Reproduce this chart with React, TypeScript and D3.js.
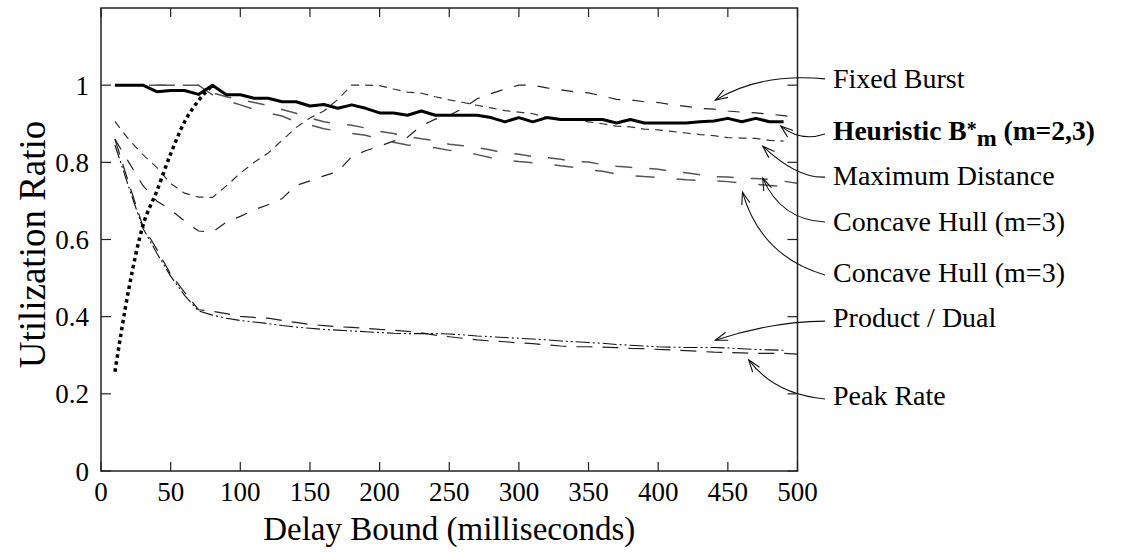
import React from "react";
import * as d3 from "d3";

// ---------- data ----------
const delays = [10, 20, 30, 40, 50, 60, 70, 80, 90, 100, 110, 120, 130, 140, 150, 160, 170, 180, 190, 200,
  210, 220, 230, 240, 250, 260, 270, 280, 290, 300, 310, 320, 330, 340, 350, 360, 370, 380, 390, 400,
  410, 420, 430, 440, 450, 460, 470, 480, 490, 500];

const heuristic = [1.0, 1.0, 1.0, 0.983, 0.986, 0.986, 0.976, 1.0, 0.975, 0.975,
  0.966, 0.966, 0.957, 0.957, 0.946, 0.95, 0.94, 0.949, 0.94, 0.928,
  0.928, 0.922, 0.933, 0.922, 0.922, 0.922, 0.922, 0.916, 0.905, 0.916,
  0.905, 0.916, 0.911, 0.911, 0.911, 0.911, 0.902, 0.911, 0.902, 0.902,
  0.902, 0.902, 0.905, 0.907, 0.914, 0.905, 0.914, 0.905, 0.905];

const fixedBurst = [0.86, 0.8, 0.74, 0.7, 0.677, 0.648, 0.622, 0.619, 0.645, 0.66,
  0.677, 0.69, 0.706, 0.74, 0.752, 0.765, 0.776, 0.815, 0.83, 0.842,
  0.855, 0.865, 0.895, 0.912, 0.922, 0.94, 0.965, 0.978, 0.99, 1.0,
  1.0, 0.993, 0.988, 0.983, 0.98, 0.972, 0.963, 0.962, 0.957, 0.955,
  0.949, 0.945, 0.94, 0.938, 0.933, 0.93, 0.928, 0.925, 0.921, 0.916];

const maxDistance = [0.906, 0.859, 0.82, 0.787, 0.745, 0.72, 0.71, 0.709, 0.739, 0.772,
  0.8, 0.824, 0.857, 0.89, 0.915, 0.933, 0.963, 1.0, 1.0, 0.999,
  0.99, 0.982, 0.979, 0.97, 0.962, 0.955, 0.948, 0.941, 0.934, 0.93,
  0.926, 0.916, 0.91, 0.91, 0.905, 0.9, 0.894, 0.892, 0.886, 0.884,
  0.88, 0.876, 0.872, 0.869, 0.864, 0.863, 0.862, 0.857, 0.855];

const concaveHullA = [1, 1, 1, 1, 1, 1, 1, 0.98, 0.97, 0.962,
  0.955, 0.947, 0.937, 0.927, 0.915, 0.905, 0.9, 0.896, 0.889, 0.88,
  0.875, 0.867, 0.861, 0.856, 0.847, 0.843, 0.838, 0.832, 0.824, 0.821,
  0.815, 0.812, 0.808, 0.802, 0.801, 0.794, 0.79, 0.787, 0.785, 0.782,
  0.777, 0.773, 0.768, 0.763, 0.762, 0.759, 0.758, 0.756, 0.751, 0.746];

const concaveHullB = [1, 1, 1, 1, 1, 1, 1, 0.975, 0.96, 0.949,
  0.937, 0.928, 0.92, 0.905, 0.897, 0.887, 0.881, 0.875, 0.87, 0.86,
  0.852, 0.845, 0.842, 0.838, 0.831, 0.828, 0.82, 0.812, 0.806, 0.802,
  0.799, 0.796, 0.791, 0.787, 0.781, 0.777, 0.77, 0.766, 0.763, 0.761,
  0.758, 0.755, 0.753, 0.752, 0.75, 0.746, 0.743, 0.74, 0.738, 0.733];

const productDual = [0.845, 0.735, 0.63, 0.565, 0.505, 0.455, 0.415, 0.404, 0.396, 0.39,
  0.386, 0.382, 0.377, 0.373, 0.37, 0.367, 0.365, 0.363, 0.361, 0.359,
  0.357, 0.356, 0.356, 0.356, 0.355, 0.353, 0.35, 0.348, 0.346, 0.344,
  0.342, 0.34, 0.337, 0.335, 0.333, 0.331, 0.328, 0.326, 0.324, 0.322,
  0.321, 0.32, 0.32, 0.32, 0.319, 0.317, 0.315, 0.314, 0.313];

const peakRate = [0.86, 0.745, 0.635, 0.575, 0.51, 0.463, 0.418, 0.414, 0.408, 0.401,
  0.398, 0.396, 0.39, 0.385, 0.38, 0.377, 0.374, 0.372, 0.37, 0.367,
  0.365, 0.362, 0.358, 0.352, 0.348, 0.344, 0.34, 0.337, 0.335, 0.332,
  0.33, 0.327, 0.324, 0.322, 0.322, 0.321, 0.32, 0.318, 0.317, 0.315,
  0.314, 0.312, 0.31, 0.308, 0.307, 0.306, 0.305, 0.305, 0.305, 0.303];

const dottedRise = [0.257, 0.473, 0.635, 0.725, 0.822, 0.905, 0.96, 1.0];

const xTicks = [0, 50, 100, 150, 200, 250, 300, 350, 400, 450, 500];
const yTicks = [0, 0.2, 0.4, 0.6, 0.8, 1];
const yTickLabels = ["0", "0.2", "0.4", "0.6", "0.8", "1"];

const labelNames = ["Fixed Burst", "Heuristic", "Maximum Distance", "Concave Hull (m=3)", "Concave Hull (m=3)", "Product / Dual", "Peak Rate"];
// arrow tips in data units (delay, ratio)
const tipX = [441, 488, 475, 475, 460.5, 441, 465];
const tipY = [0.961, 0.894, 0.842, 0.759, 0.723, 0.339, 0.288];
// label baselines in data units
const labelY = [0.993, 0.858, 0.741, 0.622, 0.49, 0.373, 0.171];

// ---------- layout ----------
const W = 1128, H = 552;
const FONT = "'Liberation Serif', 'Times New Roman', Times, serif";
const x = d3.scaleLinear().domain([0, 500]).range([101, 797.5]);
const y = d3.scaleLinear().domain([0, 1.2]).range([471, 8]);

const arrowStartDy = [-9, -6, -8, -9, -7, -6, -6];
const ctrlOff = [[45, -27.5], [19.5, 16], [34.5, 32.5], [18.5, 42], [18.5, 64.5], [55, -18.5], [25.5, 34.5]];

function series(vals: number[]) {
  return vals.map((v, i) => [delays[i], v] as [number, number]);
}

const lineGen = d3.line<[number, number]>().x(d => x(d[0])).y(d => y(d[1]));
const smoothGen = d3.line<[number, number]>().x(d => x(d[0])).y(d => y(d[1])).curve(d3.curveMonotoneX);

export default function App() {
  const [x0, x1] = x.range();
  const [yb, yt] = y.range();
  const labelX = 833;
  const arrows = labelNames.map((_, i) => {
    const tx = x(tipX[i]), ty = y(tipY[i]);
    const sx = 825, sy = y(labelY[i]) + arrowStartDy[i];
    const cx = tx + ctrlOff[i][0], cy = ty + ctrlOff[i][1];
    const dx = tx - cx, dy = ty - cy;
    const len = Math.hypot(dx, dy);
    const ux = dx / len, uy = dy / len;
    const L = 13, a = 0.33;
    const cos = Math.cos(a), sin = Math.sin(a);
    const h1 = [tx - L * (ux * cos - uy * sin), ty - L * (uy * cos + ux * sin)];
    const h2 = [tx - L * (ux * cos + uy * sin), ty - L * (uy * cos - ux * sin)];
    return {
      path: `M${sx},${sy} Q${cx},${cy} ${tx},${ty}`,
      head: `M${h1[0]},${h1[1]} L${tx},${ty} L${h2[0]},${h2[1]}`,
    };
  });

  return (
    <svg width={W} height={H} style={{ position: "absolute", left: 0, top: 0, background: "#fff" }} fontFamily={FONT}>
      {/* series */}
      <path d={lineGen(series(concaveHullA)) || ""} fill="none" stroke="#555" strokeWidth={1.5} strokeDasharray="17,17" />
      <path d={lineGen(series(concaveHullB)) || ""} fill="none" stroke="#555" strokeWidth={1.5} strokeDasharray="19,22" />
      <path d={lineGen(series(fixedBurst)) || ""} fill="none" stroke="#222" strokeWidth={1.2} strokeDasharray="12,12" />
      <path d={lineGen(series(maxDistance)) || ""} fill="none" stroke="#333" strokeWidth={1.2} strokeDasharray="8,6" />
      <path d={lineGen(series(peakRate)) || ""} fill="none" stroke="#222" strokeWidth={1.2} strokeDasharray="16,10" />
      <path d={lineGen(series(productDual)) || ""} fill="none" stroke="#111" strokeWidth={1.1} strokeDasharray="14,3,2,3,2,3" />
      <path d={lineGen(series(heuristic)) || ""} fill="none" stroke="#000" strokeWidth={3} strokeLinejoin="round" />
      <path d={smoothGen(series(dottedRise)) || ""} fill="none" stroke="#000" strokeWidth={3.5} strokeDasharray="3.5,3.5" />

      {/* frame */}
      <rect x={x0} y={yt} width={x1 - x0} height={yb - yt} fill="none" stroke="#222" strokeWidth={1.5} />
      {xTicks.map(t => (
        <g key={"xt" + t}>
          <line x1={x(t)} x2={x(t)} y1={yb} y2={yb - 9} stroke="#222" strokeWidth={1.2} />
          <line x1={x(t)} x2={x(t)} y1={yt} y2={yt + 9} stroke="#222" strokeWidth={1.2} />
          <text x={x(t)} y={501} fontSize={27} textAnchor="middle">{t}</text>
        </g>
      ))}
      {yTicks.map((t, i) => (
        <g key={"yt" + t}>
          <line x1={x0} x2={x0 + 10} y1={y(t)} y2={y(t)} stroke="#222" strokeWidth={1.2} />
          <line x1={x1} x2={x1 - 10} y1={y(t)} y2={y(t)} stroke="#222" strokeWidth={1.2} />
          <text x={89} y={y(t) + 9.5} fontSize={27} textAnchor="end">{yTickLabels[i]}</text>
        </g>
      ))}
      <text x={(x0 + x1) / 2} y={540} fontSize={33} textAnchor="middle">Delay Bound (milliseconds)</text>
      <text transform={`translate(45,${(yb + yt) / 2 + 5}) rotate(-90)`} fontSize={37} textAnchor="middle">Utilization Ratio</text>

      {/* annotations */}
      {arrows.map((a, i) => (
        <g key={"ar" + i} fill="none" stroke="#111" strokeWidth={1.1}>
          <path d={a.path} />
          <path d={a.head} />
        </g>
      ))}
      {labelNames.map((name, i) =>
        i === 1 ? (
          <text key={"lb" + i} x={labelX} y={y(labelY[i])} fontSize={27.5} fontWeight="bold">
            Heuristic B
            <tspan fontSize={20} dy={-4}>*</tspan>
            <tspan fontSize={24} dx={0} dy={10}>m</tspan>
            <tspan fontSize={27.5} dy={-6}> (m=2,3)</tspan>
          </text>
        ) : (
          <text key={"lb" + i} x={labelX} y={y(labelY[i])} fontSize={28}>{name}</text>
        )
      )}
    </svg>
  );
}
